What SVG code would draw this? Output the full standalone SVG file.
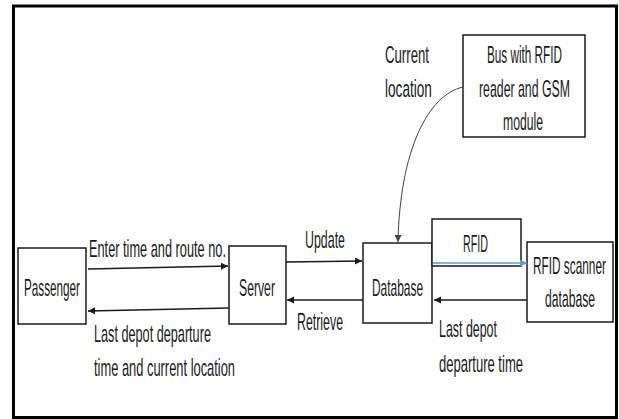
<svg xmlns="http://www.w3.org/2000/svg" width="619" height="419" viewBox="0 0 619 419">
<style>
.box{fill:#fff;stroke:#1a1a1a;stroke-width:1.5}
.t{font-family:"Liberation Sans",Arial,sans-serif;font-size:24px;fill:#1a1a1a}
.ln{fill:none;stroke:#1a1a1a;stroke-width:1.5}
</style>
<defs>
<marker id="ah" markerUnits="userSpaceOnUse" markerWidth="8" markerHeight="8" refX="7" refY="3.5" orient="auto"><path d="M0,0 L7,3.5 L0,7 z" fill="#1a1a1a"/></marker>
<marker id="ahb" markerUnits="userSpaceOnUse" markerWidth="8" markerHeight="8" refX="7" refY="3.5" orient="auto"><path d="M0,0 L7,3.5 L0,7 z" fill="#5b9bd5"/></marker>
<marker id="ahg" markerUnits="userSpaceOnUse" markerWidth="8" markerHeight="8" refX="7" refY="3.5" orient="auto"><path d="M0,0 L7,3.5 L0,7 z" fill="#444"/></marker>
</defs>
<rect x="0" y="0" width="619" height="419" fill="#fff"/>
<rect x="13.5" y="6" width="603" height="411.5" fill="none" stroke="#000" stroke-width="3"/>

<g id="passenger"><rect class="box" x="18" y="248" width="68" height="76"/><text class="t" transform="matrix(0.488 0 0 1 24 296)">Passenger</text></g>
<g id="server"><rect class="box" x="229" y="246" width="57" height="78"/><text class="t" transform="matrix(0.509 0 0 1 239 296)">Server</text></g>
<g id="database"><rect class="box" x="363" y="243" width="69" height="80"/><text class="t" transform="matrix(0.497 0 0 1 372 296)">Database</text></g>
<g id="rfid"><rect class="box" x="432" y="219" width="89" height="47"/><text class="t" transform="matrix(0.446 0 0 1 463 252)">RFID</text></g>
<g id="scanner"><rect class="box" x="527" y="242" width="86" height="80"/><text class="t" transform="matrix(0.493 0 0 1 533 274)">RFID scanner</text><text class="t" transform="matrix(0.507 0 0 1 545 307)">database</text></g>
<g id="bus"><rect class="box" x="463" y="35" width="122" height="102"/><text class="t" transform="matrix(0.489 0 0 1 487 63)">Bus with RFID</text><text class="t" transform="matrix(0.513 0 0 1 479 97)">reader and GSM</text><text class="t" transform="matrix(0.508 0 0 1 503 130)">module</text></g>

<g id="connectors">
<path class="ln" d="M88,269 L228,266" marker-end="url(#ah)"/>
<path class="ln" d="M229,308 L88,311" marker-end="url(#ah)"/>
<path class="ln" d="M286,262 L362,261" marker-end="url(#ah)"/>
<path class="ln" d="M363,300 L287,300" marker-end="url(#ah)"/>
<path d="M433,263 L527,263" fill="none" stroke="#5b9bd5" stroke-width="1.5" marker-end="url(#ahb)"/>
<path class="ln" d="M527,300 L434,300" marker-end="url(#ah)"/>
<path d="M463,87 C428,95 400,150 398,242" fill="none" stroke="#444" stroke-width="1" marker-end="url(#ahg)"/>
<text class="t" transform="matrix(0.532 0 0 1 89 257)">Enter time and route no.</text>
<text class="t" transform="matrix(0.528 0 0 1 94 342)">Last depot departure</text>
<text class="t" transform="matrix(0.537 0 0 1 94 376)">time and current location</text>
<text class="t" transform="matrix(0.517 0 0 1 305 248)">Update</text>
<text class="t" transform="matrix(0.515 0 0 1 297 330)">Retrieve</text>
<text class="t" transform="matrix(0.517 0 0 1 439 337)">Last depot</text>
<text class="t" transform="matrix(0.543 0 0 1 439 372)">departure time</text>
<text class="t" transform="matrix(0.55 0 0 1 385 63)">Current</text>
<text class="t" transform="matrix(0.568 0 0 1 385 97)">location</text>
</g>
</svg>
